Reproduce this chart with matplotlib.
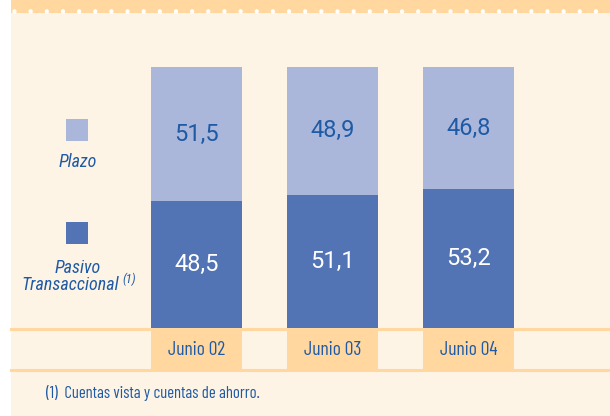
import numpy as np
import matplotlib
matplotlib.use('Agg')
import matplotlib.pyplot as plt
from matplotlib.patches import Rectangle, Ellipse

periods = ['Junio 02', 'Junio 03', 'Junio 04']
transaccional = [48.5, 51.1, 53.2]
plazo = [51.5, 48.9, 46.8]
footnote = '(1)  Cuentas vista y cuentas de ahorro.'

c_dark = '#5374B4'
c_light = '#AAB7DA'
c_orange = '#FFD79F'
c_cream = '#FEF4E5'
c_text = '#1E5AA5'
narrow = ['Roboto Condensed', 'DejaVu Sans']
narrower = ['Barlow Condensed', 'Roboto Condensed', 'DejaVu Sans']
num_font = ['Roboto', 'DejaVu Sans']

W, H = 610, 416
fig = plt.figure(figsize=(W / 100, H / 100), dpi=100, facecolor='white')

# decoration layer in pixel coordinates
bg = fig.add_axes([0, 0, 1, 1])
bg.set_xlim(0, W)
bg.set_ylim(H, 0)
bg.axis('off')
bg.add_patch(Rectangle((11, 0), W - 11, H, color=c_cream, lw=0))
bg.add_patch(Rectangle((11, 0), W - 11, 13, color=c_orange, lw=0))
for xd in np.arange(14.5, W, 16.15):
    bg.add_patch(Ellipse((xd, 11.5), 4.2, 4.6, color='white', lw=0))
bg.plot([11, W], [328.8, 328.8], color=c_orange, lw=2.2)
bg.plot([11, W], [370, 370], color=c_orange, lw=2.2)

# legend
bg.add_patch(Rectangle((66, 119), 22, 22, color=c_light, lw=0))
bg.add_patch(Rectangle((66, 222), 22, 22, color=c_dark, lw=0))
bg.text(78, 162, 'Plazo', ha='center', va='center', style='italic',
        fontsize=13, color=c_text, family=narrow)
bg.text(78, 268, 'Pasivo', ha='center', va='center', style='italic',
        fontsize=13, color=c_text, family=narrow)
bg.text(119, 285, 'Transaccional', ha='right', va='center', style='italic',
        fontsize=13, color=c_text, family=narrow)
bg.text(122, 279, '(1)', ha='left', va='center', style='italic',
        fontsize=9, color=c_text, family=narrow)
bg.text(46, 393, footnote, ha='left', va='center',
        fontsize=12, color=c_text, family=narrower)

# bars
ax = fig.add_axes([0, 0, 1, 1])
ax.patch.set_visible(False)
ax.axis('off')
x = np.arange(len(periods))
unit = 2.61
ax.set_xlim(-196.5 / 136, (W - 196.5) / 136)
ax.set_ylim(-(H - 328) / unit, 328 / unit)
bw = 91 / 136

ax.bar(x, transaccional, width=bw, color=c_dark, lw=0)
ax.bar(x, plazo, bottom=transaccional, width=bw, color=c_light, lw=0)
ax.bar(x, [-14.9] * len(x), bottom=-0.8, width=bw, color=c_orange, lw=0)

for i in range(len(x)):
    t = transaccional[i]
    p = plazo[i]
    ax.text(x[i], t / 2, f'{t:.1f}'.replace('.', ','), ha='center', va='center',
            color='white', fontsize=17, family=num_font)
    ax.text(x[i], t + p / 2, f'{p:.1f}'.replace('.', ','), ha='center', va='center',
            color=c_text, fontsize=17, family=num_font)
    ax.text(x[i], -8.3, periods[i], ha='center', va='center',
            color=c_text, fontsize=14, family=narrower)

fig.savefig('out.png', dpi=100, facecolor='white')
